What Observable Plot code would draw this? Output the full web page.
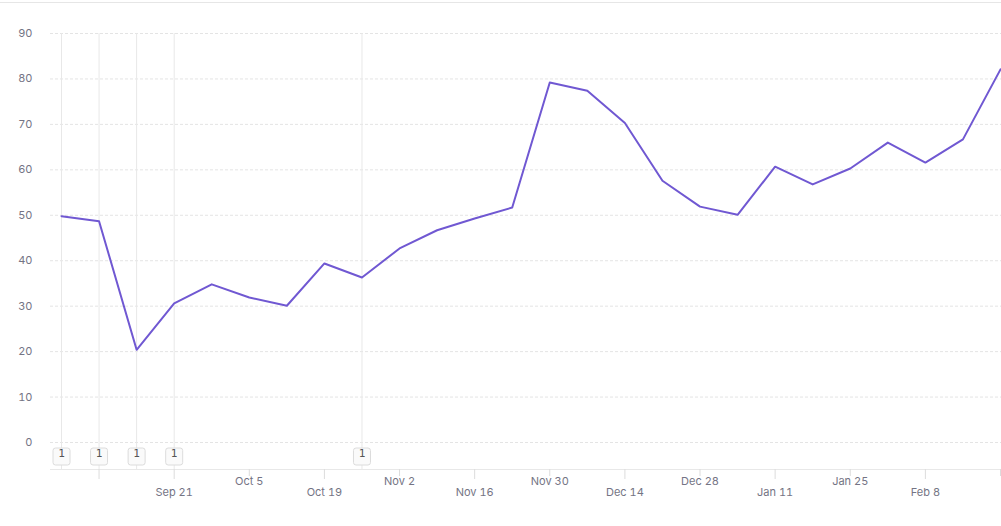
<!DOCTYPE html>
<html>
<head>
<meta charset="utf-8">
<script src="https://cdn.jsdelivr.net/npm/d3@7"></script>
<script src="https://cdn.jsdelivr.net/npm/@observablehq/plot@0.6"></script>
<style>
  html, body { margin: 0; padding: 0; background: #fff; }
  #card { margin-top: 2px; border-top: 1px solid #e6e6e6; width: 1001px; }
  svg { display: block; }
</style>
</head>
<body>
<div id="card"></div>
<script>
// ---- data ----
const weeks = [
  "2020-08-31","2020-09-07","2020-09-14","2020-09-21","2020-09-28","2020-10-05",
  "2020-10-12","2020-10-19","2020-10-26","2020-11-02","2020-11-09","2020-11-16",
  "2020-11-23","2020-11-30","2020-12-07","2020-12-14","2020-12-21","2020-12-28",
  "2021-01-04","2021-01-11","2021-01-18","2021-01-25","2021-02-01","2021-02-08",
  "2021-02-15","2021-02-22"
];
const values = [
  49.8, 48.7, 20.4, 30.6, 34.8, 31.9,
  30.1, 39.4, 36.3, 42.7, 46.7, 49.3,
  51.7, 79.2, 77.4, 70.3, 57.6, 51.9,
  50.1, 60.7, 56.8, 60.3, 66.0, 61.6,
  66.7, 82.1
];
const annotationDates = ["2020-08-31","2020-09-07","2020-09-14","2020-09-21","2020-10-26"];
const annotationCounts = [1, 1, 1, 1, 1];

const tickDates = [
  "2020-09-07","2020-09-21","2020-10-05","2020-10-19","2020-11-02","2020-11-16",
  "2020-11-30","2020-12-14","2020-12-28","2021-01-11","2021-01-25","2021-02-08","2021-02-22"
];
const tickLabels = ["", "Sep 21", "Oct 5", "Oct 19", "Nov 2", "Nov 16",
  "Nov 30", "Dec 14", "Dec 28", "Jan 11", "Jan 25", "Feb 8", ""];
const tickRows = [1, 1, 0, 1, 0, 1, 0, 1, 0, 1, 0, 1, 0]; // 0 = upper row, 1 = lower row
const yTicks = [0, 10, 20, 30, 40, 50, 60, 70, 80, 90];

// ---- build ----
const parse = d3.utcParse("%Y-%m-%d");
const series = weeks.map((w, i) => ({date: parse(w), value: values[i]}));
const annotations = annotationDates.map((d, i) => ({date: parse(d), count: String(annotationCounts[i])}));
const ticks = tickDates.map((d, i) => ({date: parse(d), label: tickLabels[i], row: tickRows[i]}));
const labelOf = new Map(ticks.map(t => [+t.date, t.label]));
const upper = ticks.filter(t => t.row === 0).map(t => t.date);
const lower = ticks.filter(t => t.row === 1).map(t => t.date);

const roundedBox = {
  draw(ctx, size) {
    const w = Math.sqrt(size / Math.PI), r = 2.5;
    ctx.moveTo(-w + r, -w);
    ctx.lineTo(w - r, -w); ctx.arcTo(w, -w, w, -w + r, r);
    ctx.lineTo(w, w - r); ctx.arcTo(w, w, w - r, w, r);
    ctx.lineTo(-w + r, w); ctx.arcTo(-w, w, -w, w - r, r);
    ctx.lineTo(-w, -w + r); ctx.arcTo(-w, -w, -w + r, -w, r);
    ctx.closePath();
  }
};

const textColor = "#747484";
const chart = Plot.plot({
  width: 1001,
  height: 523,
  marginTop: 30,
  marginLeft: 50,
  marginRight: 0,
  marginBottom: 57,
  style: {fontFamily: "Inter, 'Noto Sans', sans-serif", fontSize: "11px", background: "#fff"},
  x: {type: "utc", domain: [parse(weeks[0]), parse(weeks[weeks.length - 1])], insetLeft: 11, insetRight: 1},
  y: {domain: [0, 90], insetBottom: 27},
  marks: [
    Plot.gridY(yTicks, {stroke: "#e4e4e4", strokeOpacity: 1, strokeDasharray: "3,2"}),
    Plot.ruleX(annotations, {x: "date", stroke: "#e8e8e8", strokeWidth: 1}),
    Plot.frame({anchor: "bottom", stroke: "#e8e8e8"}),
    Plot.line(series, {x: "date", y: "value", stroke: "#7058d2", strokeWidth: 2}),
    Plot.dot(annotations, {x: "date", frameAnchor: "bottom", dy: -13, r: 8.5, symbol: roundedBox, fill: "#fafafa", stroke: "#dcdcdc", strokeWidth: 1}),
    Plot.text(annotations, {x: "date", frameAnchor: "bottom", dy: -13, text: "count", fontFamily: "'DejaVu Sans Mono', monospace", fontSize: 11, fill: "#555"}),
    Plot.axisY({ticks: yTicks, tickSize: 0, tickPadding: 18, fill: textColor, fontSize: 11, label: null}),
    Plot.axisX({ticks: upper, tickSize: 7, tickPadding: 1, stroke: "#dcdcdc", fill: textColor, tickFormat: d => labelOf.get(+d), fontSize: 11, label: null}),
    Plot.axisX({ticks: lower, tickSize: 10, tickPadding: 9, stroke: "#dcdcdc", fill: textColor, tickFormat: d => labelOf.get(+d), fontSize: 11, label: null})
  ]
});
document.getElementById("card").appendChild(chart);
</script>
</body>
</html>
